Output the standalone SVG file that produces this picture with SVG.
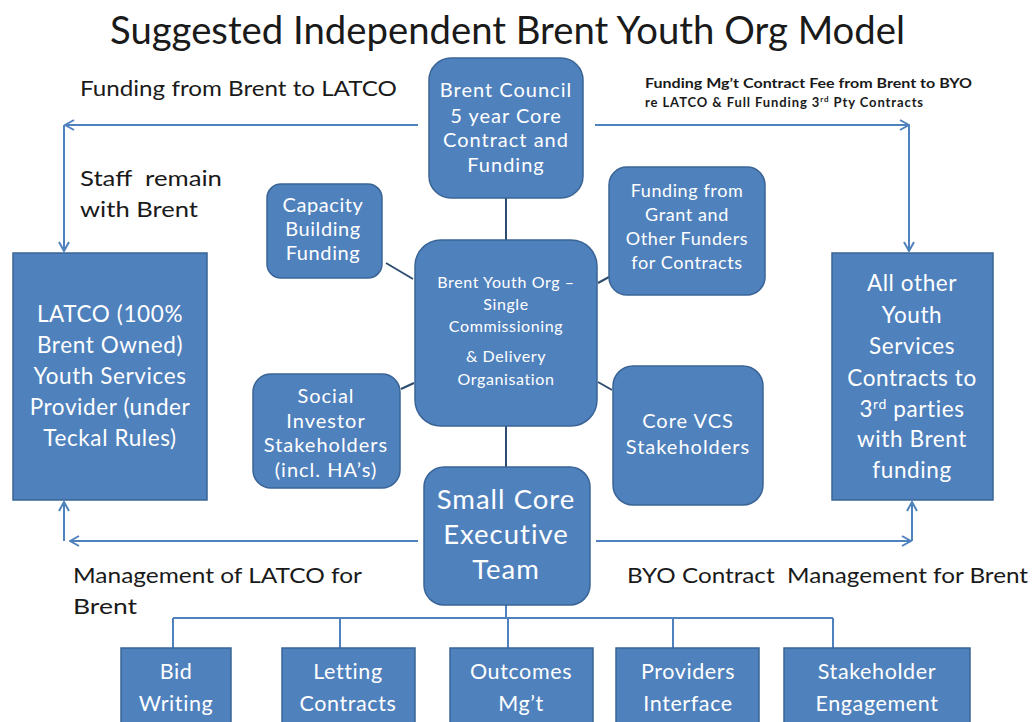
<svg xmlns="http://www.w3.org/2000/svg" width="1032" height="722" viewBox="0 0 1032 722">
  <defs>
    <marker id="open-arrow" viewBox="0 0 12 12" refX="11" refY="6" markerWidth="12" markerHeight="12" markerUnits="userSpaceOnUse" orient="auto">
      <path d="M2,1 L11,6 L2,11" fill="none" stroke="#4F81BD" stroke-width="2"/>
    </marker>
  </defs>
  <style>
    .box { fill: #4F81BD; stroke: #3A6496; stroke-width: 1.5; }
    .lbl { font-family: Lato, "Liberation Sans", sans-serif; fill: #FFFFFF; text-anchor: middle; letter-spacing: 0.6px; }
    .wide { letter-spacing: 1px; }
    .note { font-family: Lato, "Liberation Sans", sans-serif; fill: #1A1A1A; white-space: pre; }
    .link { fill: none; stroke: #4F81BD; stroke-width: 2; }
    .tie { fill: none; stroke: #2E4C6E; stroke-width: 2; }
    .arrow { fill: none; stroke: #4F81BD; stroke-width: 2; marker-end: url(#open-arrow); }
  </style>

  <rect width="1032" height="722" fill="#FFFFFF"/>

  <!-- Title -->
  <text x="110" y="44" font-family="Lato, 'Liberation Sans', sans-serif" font-size="38" fill="#1A1A1A" textLength="795" lengthAdjust="spacingAndGlyphs">Suggested Independent Brent Youth Org Model</text>

  <!-- Free-standing notes -->
  <g id="notes">
    <text class="note" x="80" y="96" font-size="21" textLength="317" lengthAdjust="spacingAndGlyphs">Funding from Brent to LATCO</text>
    <text class="note" x="80" y="186" font-size="21.5" textLength="142" lengthAdjust="spacingAndGlyphs" xml:space="preserve">Staff  remain</text>
    <text class="note" x="80" y="217" font-size="21.5" textLength="118" lengthAdjust="spacingAndGlyphs">with Brent</text>
    <text class="note" x="645" y="88" font-size="13" font-weight="bold" textLength="327" lengthAdjust="spacingAndGlyphs">Funding Mg’t Contract Fee from Brent to BYO</text>
    <text class="note" x="645" y="107" font-size="13" font-weight="bold" letter-spacing="0.9">re LATCO &amp; Full Funding 3<tspan font-size="8" dy="-5">rd</tspan><tspan dy="5"> Pty Contracts</tspan></text>
    <text class="note" x="73" y="583" font-size="21.5" textLength="289" lengthAdjust="spacingAndGlyphs">Management of LATCO for</text>
    <text class="note" x="73" y="614" font-size="21.5" textLength="64" lengthAdjust="spacingAndGlyphs">Brent</text>
    <text class="note" x="627" y="583" font-size="21.5" textLength="401" lengthAdjust="spacingAndGlyphs" xml:space="preserve">BYO Contract  Management for Brent</text>
  </g>

  <!-- Connectors -->
  <g id="connectors">
    <!-- funding flows from Brent Council -->
    <path class="arrow" d="M418,125 H65"/>
    <path class="arrow" d="M64,125 V251"/>
    <path class="arrow" d="M595,125 H909"/>
    <path class="arrow" d="M909,125 V251"/>
    <!-- management flows from the executive team -->
    <path class="arrow" d="M418,541 H70"/>
    <path class="arrow" d="M64,541 V502"/>
    <path class="arrow" d="M596,541 H911"/>
    <path class="arrow" d="M912,541 V502"/>
    <!-- hub spokes -->
    <path class="tie" d="M506,198 V240"/>
    <path class="tie" d="M506,426 V467"/>
    <path class="tie" d="M386,263 L413,279"/>
    <path class="tie" d="M598,283 L609,277"/>
    <path class="tie" d="M401,389 L414,383"/>
    <path class="tie" d="M598,382 L612,390"/>
    <!-- executive team to functions -->
    <path class="link" d="M506,605 V618 M173,618 H833 M173,618 V648 M340,618 V648 M508,618 V648 M673,618 V648 M833,618 V648"/>
  </g>

  <!-- Nodes -->
  <g id="brent-council">
    <rect class="box" x="429" y="58" width="154" height="140" rx="22"/>
    <text class="lbl wide" font-size="20"><tspan x="506" y="97">Brent Council</tspan><tspan x="506" y="123">5 year Core</tspan><tspan x="506" y="147">Contract and</tspan><tspan x="506" y="172">Funding</tspan></text>
  </g>

  <g id="brent-youth-org">
    <rect class="box" x="415" y="240" width="182" height="186" rx="26"/>
    <text class="lbl" font-size="16" letter-spacing="1"><tspan x="506" y="288">Brent Youth Org –</tspan><tspan x="506" y="310">Single</tspan><tspan x="506" y="332">Commissioning</tspan><tspan x="506" y="362">&amp; Delivery</tspan><tspan x="506" y="385">Organisation</tspan></text>
  </g>

  <g id="capacity-building">
    <rect class="box" x="267" y="184" width="115" height="94" rx="14"/>
    <text class="lbl" font-size="20" letter-spacing="1.6"><tspan x="323" y="212">Capacity</tspan><tspan x="323" y="236">Building</tspan><tspan x="323" y="260">Funding</tspan></text>
  </g>

  <g id="grant-funders">
    <rect class="box" x="609" y="167" width="156" height="128" rx="18"/>
    <text class="lbl" font-size="18" letter-spacing="1"><tspan x="687" y="197">Funding from</tspan><tspan x="687" y="221">Grant and</tspan><tspan x="687" y="245">Other Funders</tspan><tspan x="687" y="269">for Contracts</tspan></text>
  </g>

  <g id="social-investor">
    <rect class="box" x="253" y="374" width="147" height="114" rx="18"/>
    <text class="lbl wide" font-size="20"><tspan x="326" y="403">Social</tspan><tspan x="326" y="428">Investor</tspan><tspan x="326" y="452">Stakeholders</tspan><tspan x="326" y="477">(incl. HA’s)</tspan></text>
  </g>

  <g id="core-vcs">
    <rect class="box" x="613" y="366" width="150" height="139" rx="20"/>
    <text class="lbl wide" font-size="20"><tspan x="688" y="428">Core VCS</tspan><tspan x="688" y="454">Stakeholders</tspan></text>
  </g>

  <g id="executive-team">
    <rect class="box" x="424" y="467" width="166" height="138" rx="20"/>
    <text class="lbl wide" font-size="27.5"><tspan x="506" y="509">Small Core</tspan><tspan x="506" y="544">Executive</tspan><tspan x="506" y="579">Team</tspan></text>
  </g>

  <g id="latco">
    <rect class="box" x="13" y="253" width="194" height="247"/>
    <text class="lbl" font-size="22.5" letter-spacing="0.3"><tspan x="110" y="322">LATCO (100%</tspan><tspan x="110" y="353">Brent Owned)</tspan><tspan x="110" y="384">Youth Services</tspan><tspan x="110" y="415">Provider (under</tspan><tspan x="110" y="446">Teckal Rules)</tspan></text>
  </g>

  <g id="third-party-contracts">
    <rect class="box" x="832" y="253" width="161" height="247"/>
    <text class="lbl" font-size="22.5"><tspan x="912" y="291">All other</tspan><tspan x="912" y="323">Youth</tspan><tspan x="912" y="354">Services</tspan><tspan x="912" y="386">Contracts to</tspan><tspan x="912" y="417">3<tspan font-size="14" dy="-8">rd</tspan><tspan dy="8"> parties</tspan></tspan><tspan x="912" y="447">with Brent</tspan><tspan x="912" y="478">funding</tspan></text>
  </g>

  <g id="bid-writing">
    <rect class="box" x="121" y="648" width="110" height="90"/>
    <text class="lbl" font-size="21.5"><tspan x="176" y="679">Bid</tspan><tspan x="176" y="711">Writing</tspan></text>
  </g>

  <g id="letting-contracts">
    <rect class="box" x="282" y="648" width="133" height="90"/>
    <text class="lbl" font-size="21.5"><tspan x="348" y="679">Letting</tspan><tspan x="348" y="711">Contracts</tspan></text>
  </g>

  <g id="outcomes-mgt">
    <rect class="box" x="450" y="648" width="143" height="90"/>
    <text class="lbl" font-size="21.5"><tspan x="521" y="679">Outcomes</tspan><tspan x="521" y="711">Mg’t</tspan></text>
  </g>

  <g id="providers-interface">
    <rect class="box" x="616" y="648" width="143" height="90"/>
    <text class="lbl" font-size="21.5"><tspan x="688" y="679">Providers</tspan><tspan x="688" y="711">Interface</tspan></text>
  </g>

  <g id="stakeholder-engagement">
    <rect class="box" x="784" y="648" width="186" height="90"/>
    <text class="lbl" font-size="21.5"><tspan x="877" y="679">Stakeholder</tspan><tspan x="877" y="711">Engagement</tspan></text>
  </g>
</svg>
